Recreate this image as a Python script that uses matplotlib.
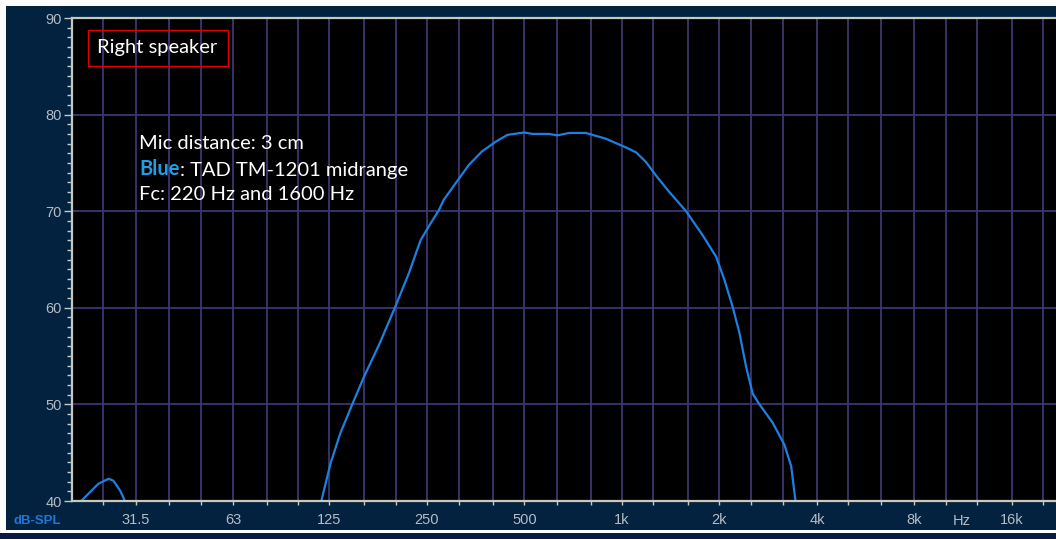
import matplotlib
matplotlib.use('Agg')
import matplotlib.pyplot as plt
from matplotlib.patches import Rectangle
from matplotlib.ticker import NullLocator, MultipleLocator

# values
low_freq = [20, 21.4, 24.2, 26.0, 26.9, 28.2, 29.2, 31]
low_spl = [37.0, 40.0, 41.8, 42.3, 42.1, 41.1, 40.0, 37.0]

band_freq = [112, 118, 126, 135, 147, 160, 178, 199, 220, 239, 253, 272, 282,
             337, 370, 408, 443, 499, 529, 596, 632, 687, 774, 831, 893, 958,
             1029, 1105, 1186, 1274, 1400, 1578, 1776, 1953, 2072, 2198, 2306,
             2418, 2535, 2659, 2922, 3177, 3332, 3436, 3550]
band_spl = [37.0, 40.0, 43.9, 47.0, 50.0, 52.9, 56.2, 60.0, 63.6, 67.0, 68.4, 70.1, 71.2,
            74.8, 76.2, 77.2, 77.9, 78.15, 78.0, 78.0, 77.85, 78.1, 78.1, 77.8, 77.5, 77.05,
            76.6, 76.1, 75.1, 73.7, 72.0, 70.0, 67.5, 65.3, 62.9, 60.1, 57.4,
            53.9, 51.1, 50.0, 48.1, 45.8, 43.6, 40.0, 36.0]

grid_freqs = [25, 31.5, 40, 50, 63, 80, 100, 125, 160, 200, 250, 315, 400, 500,
              630, 800, 1000, 1250, 1600, 2000, 2500, 3150, 4000, 5000, 6300,
              8000, 10000, 12500, 16000, 20000]
label_map = {31.5: '31.5', 63: '63', 125: '125', 250: '250', 500: '500',
             1000: '1k', 2000: '2k', 4000: '4k', 8000: '8k', 16000: '16k'}

notes = ['Mic distance: 3 cm', 'Blue', ': TAD TM-1201 midrange', 'Fc: 220 Hz and 1600 Hz']

W, H = 1056, 539
navy = '#02223f'
grid_col = '#3a3870'
spine_col = '#c8c8bc'
tick_txt = '#b4bcc4'
curve_col = '#1c80e2'


def fx(x):
    return x / W


def fy(y):
    return 1 - y / H


fig = plt.figure(figsize=(W / 100, H / 100), dpi=100, facecolor='white')
fig.patches.append(Rectangle((fx(6), fy(530)), fx(W - 6), (530 - 6) / H,
                             transform=fig.transFigure, facecolor=navy, edgecolor='none', zorder=0))
fig.patches.append(Rectangle((0, 0), 1, (H - 533) / H,
                             transform=fig.transFigure, facecolor='#0a1a40', edgecolor='none', zorder=0))

ax = fig.add_axes([fx(71.7), fy(501), 1 - fx(71.7), (501 - 18) / H])
ax.set_zorder(2)
ax.set_facecolor('black')
ax.set_xscale('log')
ax.set_xlim(20, 21900)
ax.set_ylim(40, 90)

ax.set_xticks(grid_freqs)
ax.set_xticklabels([label_map.get(f, '') for f in grid_freqs])
ax.xaxis.set_minor_locator(NullLocator())
ax.yaxis.set_major_locator(MultipleLocator(10))
ax.yaxis.set_minor_locator(MultipleLocator(1))

ax.grid(True, which='major', color=grid_col, linewidth=1.3)
ax.set_axisbelow(True)

ax.tick_params(axis='x', which='major', direction='out', length=3, width=1,
               color=spine_col, labelcolor=tick_txt, labelsize=10.5, pad=6)
ax.tick_params(axis='y', which='major', direction='out', length=6, width=1,
               color=spine_col, labelcolor=tick_txt, labelsize=10.5, pad=1)
ax.tick_params(axis='y', which='minor', direction='out', length=3.5, width=1,
               color=spine_col)
for lbl in ax.get_xticklabels() + ax.get_yticklabels():
    lbl.set_fontfamily('Liberation Sans')

for side in ['left', 'bottom', 'top']:
    ax.spines[side].set_color(spine_col)
    ax.spines[side].set_linewidth(1.6)
ax.spines['right'].set_visible(False)

ax.plot(low_freq, low_spl, color=curve_col, linewidth=1.6)
ax.plot(band_freq, band_spl, color=curve_col, linewidth=1.6)

ax.text(11200, -20 / 483, 'Hz', transform=ax.get_xaxis_transform(), ha='center', va='center',
        color=tick_txt, fontsize=10.5, family='Liberation Sans')
fig.text(fx(14), fy(521), 'dB-SPL', ha='left', va='center', color='#1e78d8',
         fontsize=9.5, fontweight='bold', family='Liberation Sans')

# boxed title
fig.text(fx(157), fy(48), 'Right speaker', ha='center', va='center', color='white',
         fontsize=14.5, family='Lato')
fig.patches.append(Rectangle((fx(88), fy(66)), (228 - 88) / W, (66 - 30) / H,
                             transform=fig.transFigure, facecolor='none',
                             edgecolor='#e00000', linewidth=1, zorder=5))

fig.text(fx(139), fy(143), notes[0], ha='left', va='center', color='white',
         fontsize=14.5, family='Lato')
t = fig.text(fx(139), fy(169), notes[1], ha='left', va='center', color='#1ea0e6',
             fontsize=14.5, family='Lato', fontweight='bold')
ax.annotate(notes[2], xy=(1, 0), xycoords=t, ha='left', va='bottom', color='white',
            fontsize=14.5, family='Lato', annotation_clip=False)
fig.text(fx(139), fy(195), notes[3], ha='left', va='center', color='white',
         fontsize=14.5, family='Lato')

fig.savefig('out.png', dpi=100, facecolor=fig.get_facecolor())
